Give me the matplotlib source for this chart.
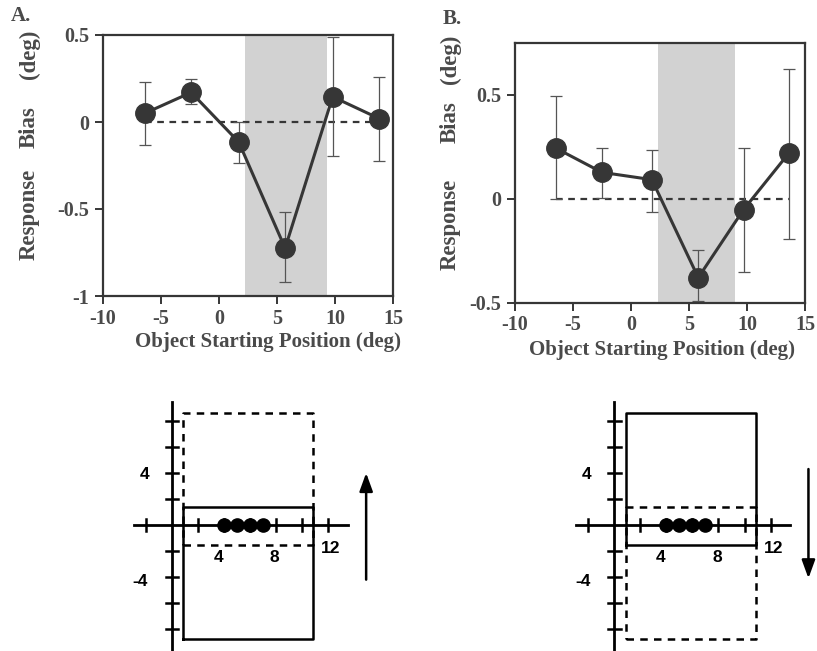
import matplotlib
matplotlib.use("Agg")
import matplotlib.pyplot as plt
import numpy as np

# Painel A
pos_a = [-6.4, -2.4, 1.7, 5.7, 9.8, 13.8]
bias_a = [0.05, 0.17, -0.115, -0.725, 0.145, 0.02]
err_lo_a = [-0.135, 0.105, -0.234, -0.92, -0.195, -0.226]
err_hi_a = [0.23, 0.25, 0.0, -0.52, 0.49, 0.26]

# Painel B
pos_b = [-6.5, -2.5, 1.8, 5.8, 9.7, 13.6]
bias_b = [0.245, 0.128, 0.093, -0.378, -0.051, 0.22]
err_lo_b = [0.0, 0.005, -0.064, -0.49, -0.35, -0.19]
err_hi_b = [0.496, 0.244, 0.236, -0.246, 0.244, 0.627]

shade_a = (2.2, 9.3)
shade_b = (2.3, 9.0)
xticks = [-10, -5, 0, 5, 10, 15]

# Esquemas
dots = [4, 5, 6, 7]
hticks = [-2, 2, 4, 6, 8, 10, 12]
vticks = [-8, -6, -4, -2, 2, 4, 6, 8]
box_x = (0.9, 10.85)
box_low = (-8.75, 1.4)
box_high = (-1.55, 8.6)

serif = "Liberation Serif"
sans = "Liberation Sans"
txt = "#4a4a4a"
ink = "#363636"

plt.rcParams["font.family"] = serif
plt.rcParams["font.weight"] = "bold"
plt.rcParams["axes.unicode_minus"] = False

fig = plt.figure(figsize=(8.17, 6.51), dpi=100)
W, H = 817, 651


def painel(rect, pos, bias, lo, hi, shade, ylim, yticks, yticklabels, letra, letra_xy, ylab_x, ylab_ys, xlab_xy):
    ax = fig.add_axes(rect)
    ax.axvspan(shade[0], shade[1], color="#d2d2d2", lw=0, zorder=0)
    ax.plot([pos[0], pos[-1]], [0, 0], ls=(0, (3, 2.5)), color=ink, lw=1.6, zorder=1)
    yerr = [np.array(bias) - np.array(lo), np.array(hi) - np.array(bias)]
    ax.errorbar(pos, bias, yerr=yerr, fmt="none", ecolor="#555555", elinewidth=0.9,
                capsize=4, capthick=0.9, zorder=2)
    ax.plot(pos, bias, "-o", color=ink, lw=2.2, ms=14, zorder=3)
    ax.set_xlim(-10, 15)
    ax.set_ylim(*ylim)
    ax.set_xticks(xticks)
    ax.set_xticklabels([str(t) for t in xticks])
    ax.set_yticks(yticks)
    ax.set_yticklabels(yticklabels)
    for s in ax.spines.values():
        s.set_color(ink)
        s.set_linewidth(1.6)
    ax.tick_params(direction="out", length=6, width=1.4, color=ink, labelcolor=txt, labelsize=14.5)
    ax.tick_params(axis="x", pad=3)
    ax.tick_params(axis="y", pad=4)
    fig.text(letra_xy[0] / W, 1 - letra_xy[1] / H, letra, size=15, color=txt, ha="center", va="center")
    for word, yy in zip(["Response", "Bias", "(deg)"], ylab_ys):
        fig.text(ylab_x / W, 1 - yy / H, word, size=16.5, color=txt, rotation=90, ha="center", va="center")
    fig.text(xlab_xy[0] / W, 1 - xlab_xy[1] / H, "Object Starting Position (deg)", size=15, color=txt,
             ha="center", va="baseline")
    return ax


painel([103 / W, 1 - 296 / H, 290 / W, 261 / H], pos_a, bias_a, err_lo_a, err_hi_a, shade_a,
       (-1, 0.5), [-1, -0.5, 0, 0.5], ["-1", "-0.5", "0", "0.5"],
       "A.", (21, 16), 29, (214, 127, 54), (268, 347))
painel([515 / W, 1 - 303 / H, 290 / W, 260 / H], pos_b, bias_b, err_lo_b, err_hi_b, shade_b,
       (-0.5, 0.75), [-0.5, 0, 0.5], ["-0.5", "0", "0.5"],
       "B.", (452, 19), 450, (224, 122, 59), (662, 355))


def esquema(x0, ox, solid, dashed, up):
    s = 13.05
    left, right, top, bot = x0, x0 + 265, 390, 651
    ax = fig.add_axes([left / W, 1 - bot / H, (right - left) / W, (bot - top) / H])
    ax.set_xlim((left - ox) / s, (right - ox) / s)
    ax.set_ylim((525 - bot) / s, (525 - top) / s)
    ax.axis("off")
    k = "black"
    ax.plot([-2.9, 13.5], [0, 0], color=k, lw=2)
    ax.plot([0, 0], [-10, 9.4], color=k, lw=2)
    for t in hticks:
        ax.plot([t, t], [-0.45, 0.45], color=k, lw=1.8)
    for t in vticks:
        ax.plot([-0.45, 0.5], [t, t], color=k, lw=1.8)
    ax.plot(dots, [0] * len(dots), "o", color=k, ms=9.5)
    bx = [box_x[0], box_x[1], box_x[1], box_x[0], box_x[0]]
    ax.plot(bx, [solid[0], solid[0], solid[1], solid[1], solid[0]], color=k, lw=1.8)
    ax.plot(bx, [dashed[0], dashed[0], dashed[1], dashed[1], dashed[0]], color=k, lw=1.8,
            ls=(0, (3, 2.5)))
    style = "-|>,head_length=1.1,head_width=0.4"
    if up:
        ax.annotate("", xy=(14.9, 4.2), xytext=(14.9, -4.4),
                    arrowprops=dict(arrowstyle=style, color=k, lw=1.8))
    else:
        ax.annotate("", xy=(14.9, -4.3), xytext=(14.9, 4.5),
                    arrowprops=dict(arrowstyle=style, color=k, lw=1.8))
    fs = 12.5
    ax.text(3.6, -2.5, "4", family=sans, weight="bold", size=fs, ha="center", va="center")
    ax.text(7.9, -2.5, "8", family=sans, weight="bold", size=fs, ha="center", va="center")
    ax.text(12.2, -1.8, "12", family=sans, weight="bold", size=fs, ha="center", va="center")
    ax.text(-2.1, 3.9, "4", family=sans, weight="bold", size=fs, ha="center", va="center")
    ax.text(-2.4, -4.3, "-4", family=sans, weight="bold", size=fs, ha="center", va="center")


esquema(120, 171.7, box_low, box_high, True)
esquema(555, 614, box_high, box_low, False)

fig.savefig("out.png", dpi=100)
